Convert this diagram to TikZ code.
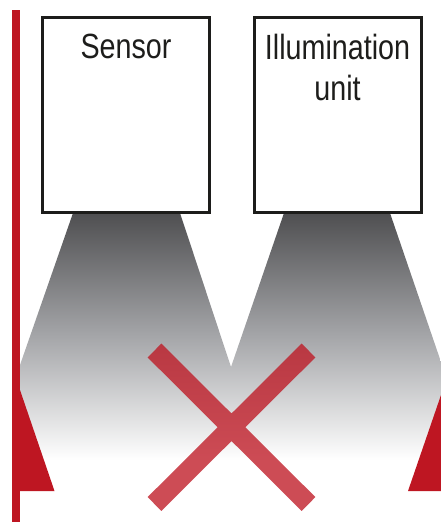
\documentclass[tikz,border=0pt]{standalone}
\usepackage{fontspec}
\setmainfont[FakeStretch=0.82]{Liberation Sans}
\definecolor{barred}{HTML}{BE1622}
\definecolor{boxline}{HTML}{1D1D1B}
\definecolor{beamtop}{HTML}{4F4F51}
\definecolor{beammid}{HTML}{A5A6A9}
\tikzset{
  unitbox/.style={draw=boxline,line width=3bp,fill=white,minimum width=167bp,minimum height=195bp,outer sep=0pt,inner sep=0pt},
  unitlabel/.style={font=\fontsize{35bp}{41.5bp}\selectfont,text=boxline,align=center,anchor=north,inner sep=0pt},
  crossarm/.style={draw=barred,line width=19.5bp,opacity=.77}
}
\begin{document}
\begin{tikzpicture}[x=1bp,y=-1bp]
\useasboundingbox (0,0) rectangle (441,522);
\shade[top color=beamtop,bottom color=white,middle color=beammid]
  (73,213) -- (180,213) -- (231,367) -- (284,213) -- (390,213) -- (441,362)
  -- (441,460) -- (20,460) -- (20,365) -- cycle;
\fill[barred] (12,10) rectangle (20.3,522);
\fill[barred] (20,390) -- (54.5,491) -- (20,491) -- cycle;
\fill[barred] (441,395) -- (408,491) -- (441,491) -- cycle;
\node[unitbox] (sensor) at (125.8,115) {};
\node[unitbox] (illum) at (337.5,115) {};
\node[unitlabel] (sensorlabel) at (126,33.5) {Sensor};
\node[unitlabel] (illumlabel) at (337.5,33.5) {Illumination\\unit};
\coordinate (a1) at (154.5,350.5);
\coordinate (a2) at (308.5,504);
\coordinate (b1) at (308.5,350.5);
\coordinate (b2) at (154.5,504);
\draw[crossarm] (a1) -- (a2) (b1) -- (b2);
\end{tikzpicture}
\end{document}
